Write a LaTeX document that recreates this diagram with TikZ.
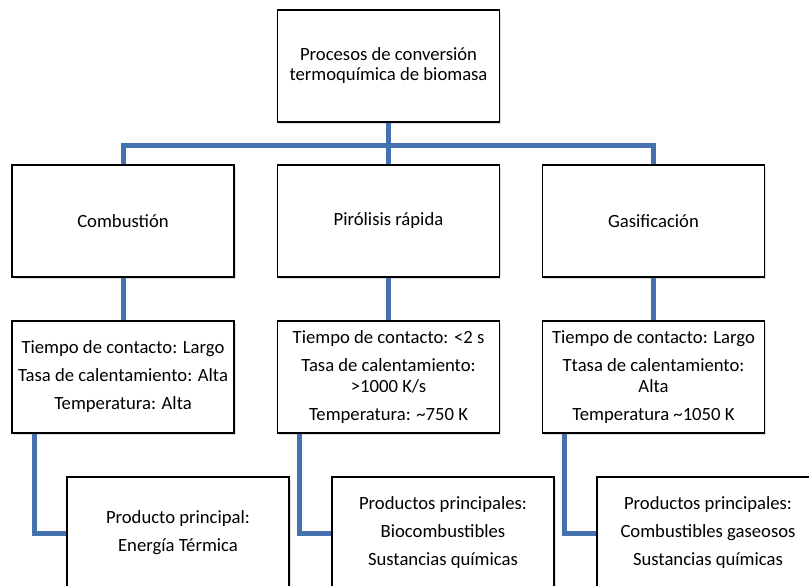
\documentclass[tikz,border=0pt]{standalone}
\usepackage{fontspec}
\setmainfont{Carlito}
\usepackage{tikz}
\usetikzlibrary{positioning,calc,shadows}
\definecolor{linkBlue}{HTML}{4572AE}
\definecolor{ink}{HTML}{000000}

\begin{document}
\begin{tikzpicture}[x=0.75pt,y=-0.75pt,font={\fontsize{14}{15.75}\selectfont},
  box/.style={draw=ink,line width=0.9pt,fill=white,align=center,inner sep=2pt,
    minimum width=166.5pt,minimum height=84pt,
    drop shadow={opacity=0.25,shadow xshift=1.2pt,shadow yshift=-1.2pt}},
  link/.style={linkBlue,line width=3.75pt}]
\useasboundingbox (0,0) rectangle (809,585);
\clip (0,0) rectangle (809,585);
% root
\node[box] (root) at (388.5,66) {Procesos de conversión\\[-0.75pt]termoquímica de biomasa};
\coordinate (bus) at (388.5,145);
% processes
\node[box] (comb) at (123,221)   {Combustión};
\node[box] (pir)  at (388.5,221) {Pirólisis rápida};
\node[box] (gas)  at (653.5,221) {Gasificación};
% conditions
\node[box] (combc) at (123,377)   {Tiempo de contacto: Largo\\[5.25pt]Tasa de calentamiento: Alta\\[5.25pt]Temperatura: Alta};
\node[box] (pirc)  at (388.5,377) {Tiempo de contacto: <2 s\\[5.25pt]Tasa de calentamiento:\\>1000 K/s\\[5.25pt]Temperatura: \textasciitilde750 K};
\node[box] (gasc)  at (653.5,377) {Tiempo de contacto: Largo\\[5.25pt]Ttasa de calentamiento:\\Alta\\[5.25pt]Temperatura \textasciitilde1050 K};
% products
\node[box] (combp) at (178,533) {Producto principal:\\[5.25pt]Energía Térmica};
\node[box] (pirp)  at (443,533) {Productos principales:\\[5.25pt]Biocombustibles\\[5.25pt]Sustancias químicas};
\node[box] (gasp)  at (708,533) {Productos principales:\\[5.25pt]Combustibles gaseosos\\[5.25pt]Sustancias químicas};
% connectors
\draw[link] (root.south) -- (bus);
\draw[link] (comb.north) |- (bus) -| (gas.north);
\draw[link] (bus) -- (pir.north);
\draw[link] (comb.south) -- (combc.north);
\draw[link] (pir.south) -- (pirc.north);
\draw[link] (gas.south) -- (gasc.north);
\draw[link] ($(combc.south west)+(23,0)$) |- (combp.west);
\draw[link] ($(pirc.south west)+(23,0)$) |- (pirp.west);
\draw[link] ($(gasc.south west)+(23,0)$) |- (gasp.west);
\end{tikzpicture}
\end{document}
